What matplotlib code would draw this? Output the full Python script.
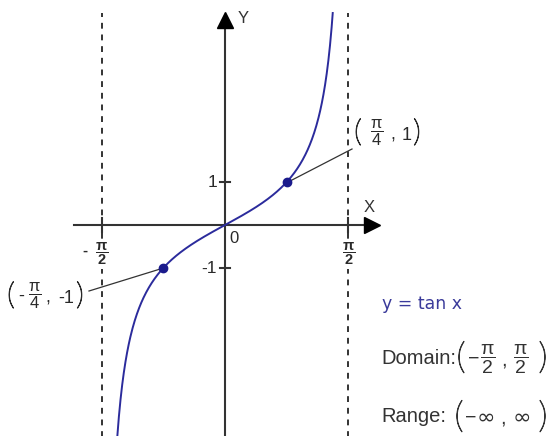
import numpy as np
import matplotlib
matplotlib.use("Agg")
import matplotlib.pyplot as plt
from matplotlib import font_manager as fm
from matplotlib import patheffects as pe

plt.rcParams['font.family'] = ['Liberation Sans', 'DejaVu Sans']
plt.rcParams['mathtext.fontset'] = 'custom'
plt.rcParams['mathtext.rm'] = 'Liberation Sans'
plt.rcParams['mathtext.it'] = 'Liberation Sans'
plt.rcParams['mathtext.bf'] = 'Liberation Sans:bold'

# asymptotes, marked points and tick values
asymptotes = [-np.pi / 2, np.pi / 2]
asym_signs = ['-', '']
y_ticks = [-1, 1]
y_tick_labels = ['-1', '1']
point_x = [-np.pi / 4, np.pi / 4]
point_y = [-1, 1]
curve_y_range = [-6.0, 4.93]

# pixel scale of the original picture
ux, uy = 78.6, 43.0
ox, oy = 225, 225
W, H = 552, 436


def P(px, py):
    # picture pixel -> data coords, for placing annotations
    return (px - ox) / ux, (oy - py) / uy


# thin font for the tall brackets
paren_path = None
for fam in ['Lato', 'Open Sans', 'Roboto', 'Noto Sans']:
    try:
        path = fm.findfont(fm.FontProperties(family=fam, weight='light'), fallback_to_default=False)
    except Exception:
        continue
    if 'light' in path.lower() or 'thin' in path.lower():
        paren_path = path
        break


def paren(s, px, py, size, col):
    if paren_path:
        fp = fm.FontProperties(fname=paren_path, size=size)
        fx = [pe.withStroke(linewidth=0.7, foreground=col)]
    else:
        fp = fm.FontProperties(family='Liberation Sans', size=size)
        fx = None
    ax.text(*P(px, py), s, fontproperties=fp, color=col, ha='center', va='center',
            path_effects=fx)


fig = plt.figure(figsize=(W / 100, H / 100), dpi=100)
ax = fig.add_axes([0, 0, 1, 1])
ax.set_xlim(-ox / ux, (W - ox) / ux)
ax.set_ylim(-(H - oy) / uy, oy / uy)
ax.axis('off')

axis_col = '#333333'
text_col = '#2a2a2a'
curve_col = '#2b2b9c'

# axes with arrow heads
ax.plot([-1.92, 1.82], [0, 0], color=axis_col, lw=1.5, zorder=2)
ax.plot([1.87], [0], marker='>', ms=11, color='black', zorder=3)
ax.plot([0, 0], [-6, 4.7], color=axis_col, lw=1.5, zorder=2)
ax.plot([0], [4.77], marker='^', ms=11, color='black', zorder=3)
ax.text(*P(243, 18), 'Y', fontsize=12, color=axis_col, va='center', ha='center')
ax.text(*P(369, 207), 'X', fontsize=12, color=axis_col, va='center', ha='center')
ax.text(*P(234, 238), '0', fontsize=12, color=text_col, va='center', ha='center')

# asymptotes
for xa, sign in zip(asymptotes, asym_signs):
    ax.plot([xa, xa], [-6, 4.93], color=axis_col, lw=1.4, ls=(0, (3, 3)), zorder=1)
    ax.plot([xa, xa], [-0.17, 0.17], color=axis_col, lw=1.5, zorder=2)
    ax.text(xa, P(0, 254)[1], r'$\dfrac{\mathbf{\pi}}{\mathbf{2}}$', fontsize=10.5,
            ha='center', va='center', color=text_col,
            bbox=dict(facecolor='white', edgecolor='none', pad=1.5), zorder=3)
    if sign:
        ax.text(xa - 17 / ux, P(0, 251)[1], sign, fontsize=11, fontweight='bold',
                ha='center', va='center', color=text_col)

# y ticks
for yt, lab in zip(y_ticks, y_tick_labels):
    ax.plot([-0.06, 0.06], [yt, yt], color=axis_col, lw=1.5, zorder=2)
    ax.text(-0.1, yt, lab, fontsize=12.5, ha='right', va='center', color=text_col)

# curve
xs = np.linspace(np.arctan(curve_y_range[0]), np.arctan(curve_y_range[1]), 400)
ax.plot(xs, np.tan(xs), color=curve_col, lw=1.4, zorder=4)
ax.plot(point_x, point_y, 'o', color='#1a1a8c', ms=6, zorder=5)

# point label (pi/4, 1)
ax.plot([point_x[1] + 0.05, P(352, 0)[0]], [point_y[1] + 0.03, P(0, 149)[1]],
        color=axis_col, lw=0.9, zorder=3)
paren('(', 358, 133, 22, text_col)
ax.text(*P(377, 133), r'$\dfrac{\pi}{4}$', fontsize=12, ha='center', va='center', color=text_col)
ax.text(*P(393, 139), ',', fontsize=13, ha='center', va='baseline', color=text_col)
ax.text(*P(407, 135), '1', fontsize=13, ha='center', va='center', color=text_col)
paren(')', 417, 133, 22, text_col)

# point label (-pi/4, -1)
ax.plot([point_x[0] - 0.05, P(89, 0)[0]], [point_y[0] - 0.03, P(0, 291)[1]],
        color=axis_col, lw=0.9, zorder=3)
paren('(', 11, 296, 22, text_col)
ax.text(*P(21, 296), '-', fontsize=13, ha='center', va='center', color=text_col)
ax.text(*P(35, 296), r'$\dfrac{\pi}{4}$', fontsize=12, ha='center', va='center', color=text_col)
ax.text(*P(48, 302), ',', fontsize=13, ha='center', va='baseline', color=text_col)
ax.text(*P(66, 298), '-1', fontsize=13, ha='center', va='center', color=text_col)
paren(')', 80, 296, 22, text_col)

# right side text
ax.text(*P(382, 304), 'y = tan x', fontsize=12.5, family='DejaVu Sans', color='#3a3a9a',
        ha='left', va='center')

dom_y = 358
ax.text(*P(381, dom_y), 'Domain:', fontsize=14.5, color=axis_col, ha='left', va='center')
paren('(', 461, dom_y + 1, 26, axis_col)
ax.text(*P(474, dom_y + 1), '\u2212', fontsize=14, color=axis_col, ha='center', va='center')
ax.text(*P(488, dom_y + 1), r'$\dfrac{\pi}{2}$', fontsize=14, color=axis_col,
        ha='center', va='center')
ax.text(*P(504, dom_y + 7), ',', fontsize=14.5, color=axis_col, ha='center', va='baseline')
ax.text(*P(521, dom_y + 1), r'$\dfrac{\pi}{2}$', fontsize=14, color=axis_col,
        ha='center', va='center')
paren(')', 543, dom_y + 1, 26, axis_col)

rng_y = 416
ax.text(*P(381, rng_y), 'Range:', fontsize=14.5, color=axis_col, ha='left', va='center')
paren('(', 459, rng_y + 2, 26, axis_col)
ax.text(*P(471, rng_y + 2), '\u2212', fontsize=14, color=axis_col, ha='center', va='center')
ax.text(*P(486, rng_y + 2), '\u221e', fontsize=16, family='DejaVu Sans', color=axis_col,
        ha='center', va='center')
ax.text(*P(503, rng_y + 7), ',', fontsize=14.5, color=axis_col, ha='center', va='baseline')
ax.text(*P(522, rng_y + 2), '\u221e', fontsize=16, family='DejaVu Sans', color=axis_col,
        ha='center', va='center')
paren(')', 543, rng_y + 2, 26, axis_col)

fig.savefig('out.png', dpi=100)
